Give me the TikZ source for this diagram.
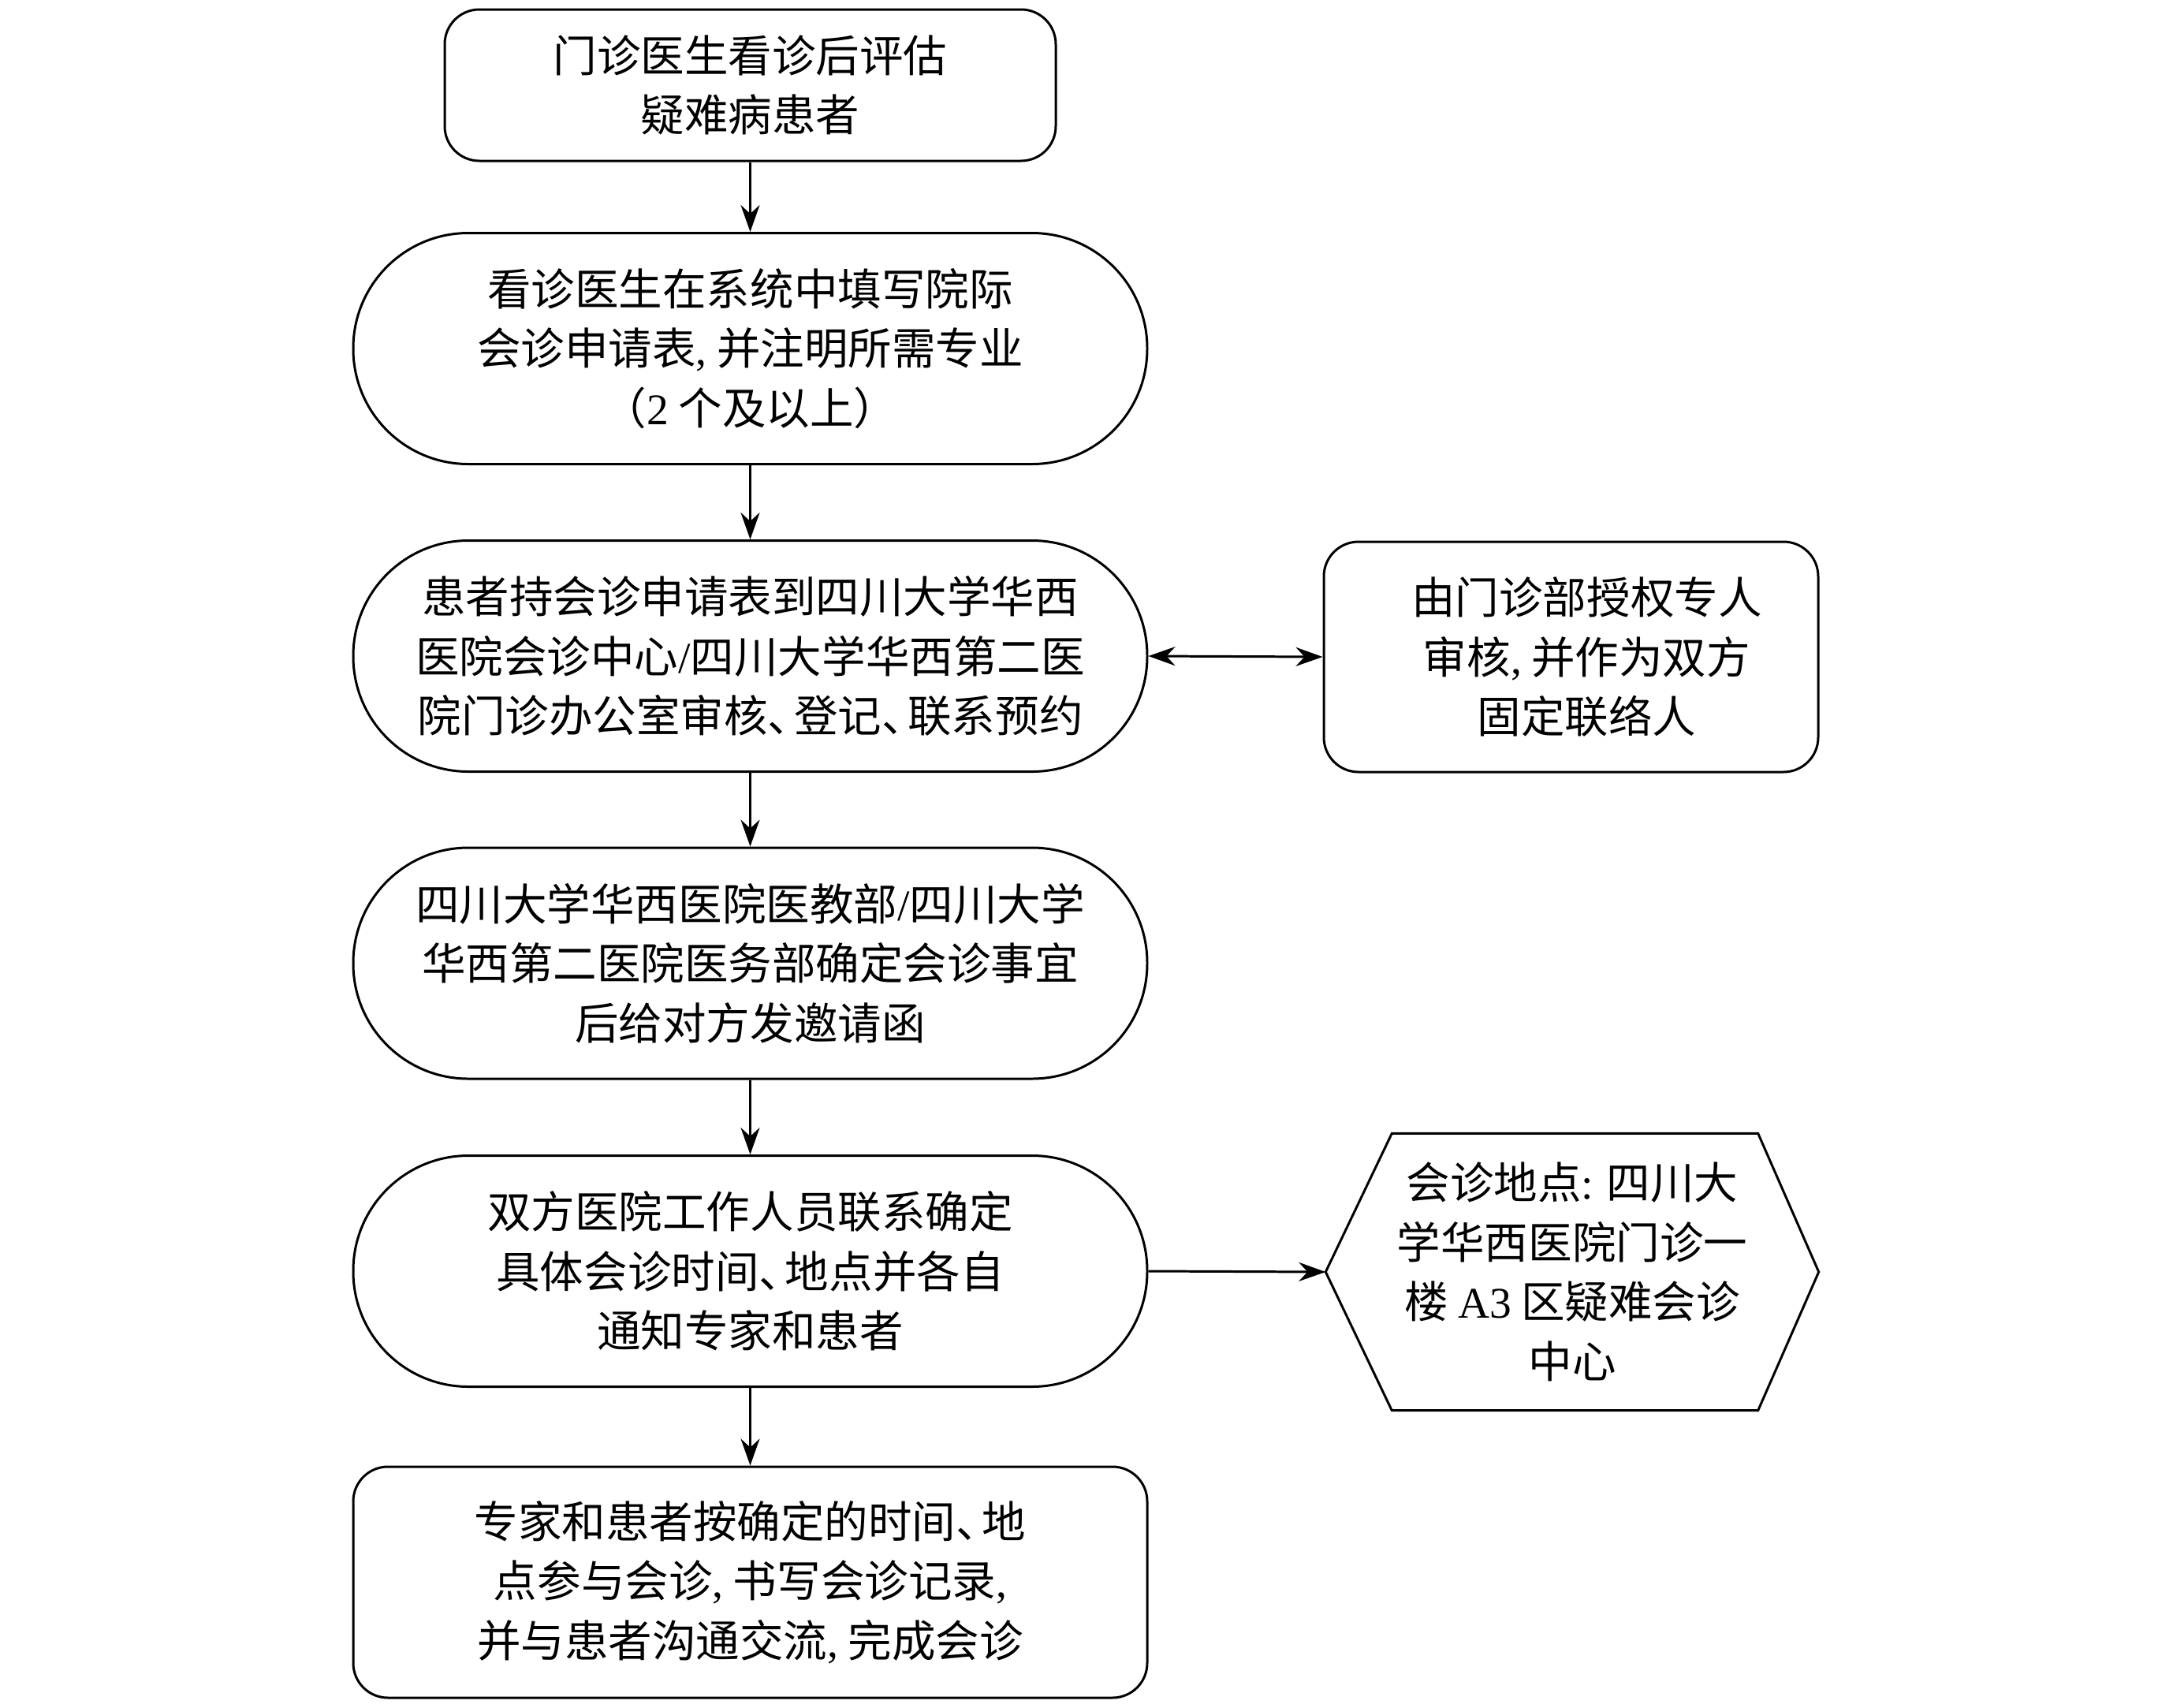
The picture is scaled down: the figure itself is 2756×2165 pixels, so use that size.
\documentclass[tikz,border=0pt]{standalone}
\usepackage{fontspec}
\setmainfont{Liberation Serif}
\newfontfamily\cjk{Noto Sans CJK SC}
\usetikzlibrary{arrows.meta}
\newcommand\lat[1]{{\rmfamily #1}}
\newcommand\dun{、\kern-0.4em}
\begin{document}
\begin{tikzpicture}[x=0.1mm,y=-0.1mm,
  box/.style={draw, line width=0.85pt, align=center, inner sep=0pt,
    font=\cjk\fontsize{15.8pt}{21.5pt}\selectfont},
  roundbox/.style={box, rounded corners=4.4mm},
  pill/.style={box, rounded corners=14.6mm, minimum width=100.7mm, minimum height=29.3mm},
  hextext/.style={align=center, inner sep=0pt, minimum width=62.4mm, minimum height=35mm,
    font=\cjk\fontsize{15.8pt}{21.5pt}\selectfont},
  arr/.style={line width=0.85pt, -{Stealth[length=3.4mm,width=2.4mm]}},
  darr/.style={line width=0.85pt, {Stealth[length=3.4mm,width=2.4mm]}-{Stealth[length=3.4mm,width=2.4mm]}}
]
\useasboundingbox (0,0) rectangle (2756,2165);

\node[roundbox, minimum width=77.5mm, minimum height=19.2mm] (b1) at (951.5,108)
  {门诊医生看诊后评估\\疑难病患者};
\node[pill] (b2) at (951.5,442)
  {看诊医生在系统中填写院际\\会诊申请表\lat{,} 并注明所需专业\\（\lat{2} 个及以上）};
\node[pill] (b3) at (951.5,832)
  {患者持会诊申请表到四川大学华西\\医院会诊中心\lat{/}四川大学华西第二医\\院门诊办公室审核\dun 登记\dun 联系预约};
\node[roundbox, minimum width=62.7mm, minimum height=29.2mm] (r3) at (1992.5,833)
  {\hspace*{4mm}由门诊部授权专人\\\hspace*{4mm}审核\lat{,} 并作为双方\\\hspace*{4mm}固定联络人};
\node[pill] (b4) at (951.5,1221.5)
  {四川大学华西医院医教部\lat{/}四川大学\\华西第二医院医务部确定会诊事宜\\后给对方发邀请函};
\node[pill] (b5) at (951.5,1612)
  {双方医院工作人员联系确定\\具体会诊时间\dun 地点并各自\\通知专家和患者};
\node[hextext] (hex) at (1994,1613)
  {会诊地点\lat{:} 四川大\\学华西医院门诊一\\楼 \lat{A3} 区疑难会诊\\中心};
\draw[line width=0.85pt] (hex.west) -- ([xshift=8.4mm]hex.north west)
  -- ([xshift=-7.7mm]hex.north east) -- (hex.east)
  -- ([xshift=-7.7mm]hex.south east) -- ([xshift=8.4mm]hex.south west) -- cycle;
\node[roundbox, minimum width=100.7mm, minimum height=29.3mm] (b7) at (951.5,2006.5)
  {专家和患者按确定的时间\dun 地\\点参与会诊\lat{,} 书写会诊记录\lat{,}\\并与患者沟通交流\lat{,} 完成会诊};

\draw[arr] (b1.south) -- (b2.north);
\draw[arr] (b2.south) -- (b3.north);
\draw[darr] (b3.east) -- (r3.west);
\draw[arr] (b3.south) -- (b4.north);
\draw[arr] (b4.south) -- (b5.north);
\draw[arr] (b5.east) -- (hex.west);
\draw[arr] (b5.south) -- (b7.north);
\end{tikzpicture}
\end{document}
